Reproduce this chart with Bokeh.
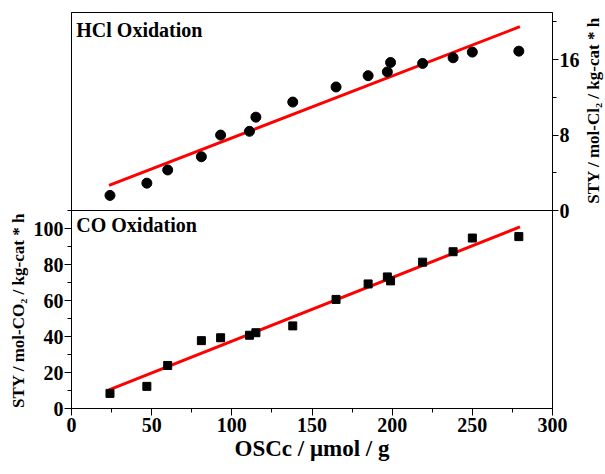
import math
from bokeh.plotting import figure
from bokeh.layouts import row
from bokeh.models import Range1d, LinearAxis, FixedTicker, Label, Span
from bokeh.core.properties import value
from bokeh.embed import file_html
from bokeh.resources import INLINE

# ---- data ----
osc = [24, 47, 60, 81, 93, 111, 115, 138, 165, 185, 197, 199, 219, 238, 250, 279]
hcl_sty = [1.6, 2.9, 4.3, 5.7, 8.0, 8.4, 9.9, 11.5, 13.1, 14.3, 14.7, 15.7, 15.6, 16.2, 16.8, 16.9]
co_sty = [8.4, 12.3, 23.9, 37.7, 39.3, 40.7, 42.1, 45.9, 60.6, 69.2, 73.1, 70.9, 81.3, 87.1, 94.7, 95.5]
fit_x = [23.4, 279.7]
hcl_fit = [2.66, 19.5]
co_fit = [10.3, 100.9]

x_ticks = [0, 50, 100, 150, 200, 250, 300]
x_minor = [25, 75, 125, 175, 225, 275]
co_ticks = [0, 20, 40, 60, 80, 100]
co_minor = [10, 30, 50, 70, 90, 110]
hcl_ticks = [0, 8, 16]
hcl_minor = [4, 12, 20]

left_title = "STY / mol-CO₂ / kg-cat * h"
right_title = "STY / mol-Cl₂ / kg-cat * h"
x_title = "OSCc / μmol / g"

FONT = "Liberation Serif"
H = 474
TOP, BOTTOM = 12, 66          # borders above / below the plotting frame
LEFT_W, MAIN_W, RIGHT_W = 30, 552, 23


def strip(width):
    # frame rows match the main plot; data y = page distance from the window bottom
    f = figure(width=width, height=H, x_range=Range1d(0, width),
               y_range=Range1d(BOTTOM, H - TOP),
               output_backend="svg", toolbar_location=None,
               x_axis_location=None, y_axis_location=None,
               min_border_left=0, min_border_right=0,
               min_border_top=TOP, min_border_bottom=BOTTOM)
    f.outline_line_color = None
    f.grid.visible = False
    f.background_fill_color = "white"
    f.border_fill_color = "white"
    return f


def vertical_title(fig, txt, x_center, y_center_page, size):
    fig.text(x=[x_center], y=[H - y_center_page], text=[txt], angle=math.pi / 2,
             text_font=value(FONT), text_font_style="bold",
             text_font_size=f"{size}px", text_align="center",
             text_baseline="middle", text_color="black")


# ---- main plot ----
p = figure(width=MAIN_W, height=H, x_range=Range1d(0, 300), y_range=Range1d(0, 220),
           output_backend="svg", toolbar_location=None,
           min_border_left=39, min_border_right=29,
           min_border_top=TOP, min_border_bottom=BOTTOM)
p.extra_y_ranges = {"hcl": Range1d(-21, 21)}
p.grid.visible = False
p.outline_line_color = "black"
p.outline_line_width = 1
p.background_fill_color = "white"
p.border_fill_color = "white"

right_axis = LinearAxis(y_range_name="hcl")
p.add_layout(right_axis, "right")

p.xaxis.ticker = FixedTicker(ticks=x_ticks, minor_ticks=x_minor)
p.yaxis[0].ticker = FixedTicker(ticks=co_ticks, minor_ticks=co_minor)
right_axis.ticker = FixedTicker(ticks=hcl_ticks, minor_ticks=hcl_minor)

for ax in [p.xaxis[0], p.yaxis[0], right_axis]:
    ax.axis_line_color = "black"
    ax.major_tick_line_color = "black"
    ax.minor_tick_line_color = "black"
    ax.major_tick_in = 0
    ax.major_tick_out = 7
    ax.minor_tick_in = 0
    ax.minor_tick_out = 4
    ax.major_label_text_font = FONT
    ax.major_label_text_font_style = "bold"
    ax.major_label_text_font_size = "20px"
    ax.major_label_text_color = "black"

p.yaxis[0].major_label_standoff = 1
right_axis.major_label_standoff = 1
right_axis.major_tick_out = 6
p.xaxis.major_label_standoff = 2

p.xaxis.axis_label = x_title
p.xaxis.axis_label_text_font = FONT
p.xaxis.axis_label_text_font_style = "bold"
p.xaxis.axis_label_text_font_size = "23px"
p.xaxis.axis_label_text_color = "black"
p.xaxis.axis_label_standoff = 1

# separator between the two panels
p.add_layout(Span(location=110, dimension="width", line_color="black", line_width=1))

# HCl panel
p.line(fit_x, hcl_fit, y_range_name="hcl", line_color="#ff0000", line_width=3)
p.scatter(osc, hcl_sty, y_range_name="hcl", marker="circle", size=10,
          fill_color="black", line_color="black")

# CO panel
p.line(fit_x, co_fit, line_color="#ff0000", line_width=3)
p.scatter(osc, co_sty, marker="square", size=8, fill_color="black", line_color="black")

p.add_layout(Label(x=3.0, y=19.15, y_range_name="hcl", text="HCl Oxidation",
                   text_font=FONT, text_font_style="bold", text_font_size="20px",
                   text_baseline="alphabetic", text_align="left", text_color="black"))
p.add_layout(Label(x=3.0, y=101.8, text="CO Oxidation",
                   text_font=FONT, text_font_style="bold", text_font_size="20px",
                   text_baseline="alphabetic", text_align="left", text_color="black"))

# ---- rotated axis titles in side strips ----
left = strip(LEFT_W)
vertical_title(left, left_title, x_center=18, y_center_page=310, size=17)

right = strip(RIGHT_W)
vertical_title(right, right_title, x_center=593 - (LEFT_W + MAIN_W), y_center_page=110, size=17)

layout = row(left, p, right, spacing=0)
open("out.html", "w").write(file_html(layout, INLINE))
